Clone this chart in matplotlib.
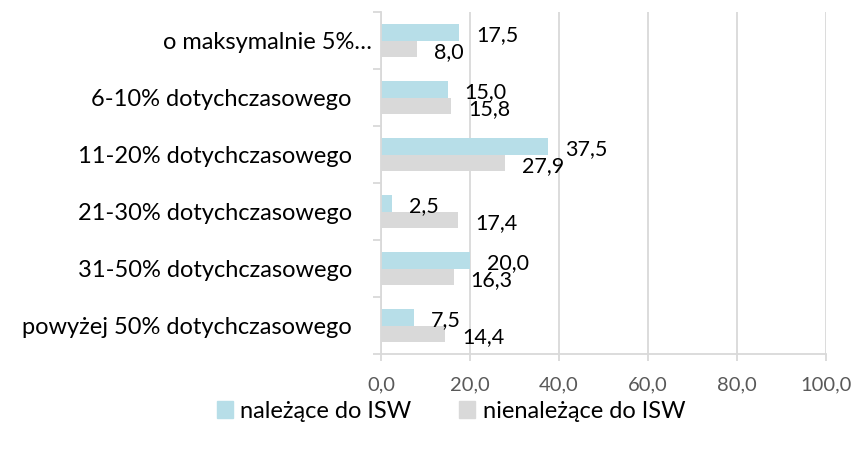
import numpy as np
import matplotlib.pyplot as plt
from matplotlib.patches import Patch
from matplotlib.transforms import ScaledTranslation

plt.rcParams['font.family'] = ['Lato', 'DejaVu Sans']

categories = ['o maksymalnie 5%…', '6-10% dotychczasowego', '11-20% dotychczasowego',
              '21-30% dotychczasowego', '31-50% dotychczasowego', 'powyżej 50% dotychczasowego']
isw = [17.5, 15.0, 37.5, 2.5, 20.0, 7.5]
non_isw = [8.0, 15.8, 27.9, 17.4, 16.3, 14.4]
series_names = ['należące do ISW', 'nienależące do ISW']
xticks = [0, 20, 40, 60, 80, 100]

blue = '#B7DEE8'
grey = '#D9D9D9'

fig = plt.figure(figsize=(8.58, 4.51), dpi=100)
ax = fig.add_axes([381 / 858, 97 / 451, 445 / 858, 342 / 451])

y = np.arange(len(categories))
h = 0.29
ax.barh(y - h / 2, isw, height=h, color=blue, zorder=2)
ax.barh(y + h / 2, non_isw, height=h, color=grey, zorder=2)

# data labels, Excel style (comma decimal)
for yi, v in zip(y - h / 2, isw):
    ax.annotate(f'{v:.1f}'.replace('.', ','), (v, yi), xytext=(17, -3),
                textcoords='offset pixels', ha='left', va='center', fontsize=15.5)
for yi, v in zip(y + h / 2, non_isw):
    ax.annotate(f'{v:.1f}'.replace('.', ','), (v, yi), xytext=(17, -3),
                textcoords='offset pixels', ha='left', va='center', fontsize=15.5)

ax.set_ylim(len(categories) - 0.5, -0.5)
ax.set_xlim(0, 100)
ax.set_xticks(xticks)
ax.set_xticklabels([f'{t:.1f}'.replace('.', ',') for t in xticks], color='#595959', fontsize=14.5)
ax.set_yticks(y)
ax.set_yticklabels(categories, fontsize=17)
ax.set_yticks(np.arange(len(categories) + 1) - 0.5, minor=True)
ax.tick_params(axis='y', which='major', length=0, pad=21)
ax.tick_params(axis='y', which='minor', length=6, width=1.3, color='#D9D9D9')
ax.tick_params(axis='x', length=5, width=1.3, color='#D9D9D9', pad=11)

# the truncated first label sits closer to the axis
first = ax.get_yticklabels()[0]
first.set_transform(first.get_transform() + ScaledTranslation(0.2, 0, fig.dpi_scale_trans))

ax.grid(axis='x', color='#D9D9D9', linewidth=1.3, zorder=0)
for s in ['top', 'right']:
    ax.spines[s].set_visible(False)
for s in ['left', 'bottom']:
    ax.spines[s].set_color('#D9D9D9')
    ax.spines[s].set_linewidth(1.3)

handles = [Patch(color=blue), Patch(color=grey)]
fig.legend(handles, series_names, loc='center', bbox_to_anchor=(451 / 858, 1 - 411 / 451),
           ncol=2, frameon=False, fontsize=17, handlelength=0.7, handleheight=0.7,
           handletextpad=0.3, columnspacing=2.0)

fig.savefig('out.png', dpi=100)
